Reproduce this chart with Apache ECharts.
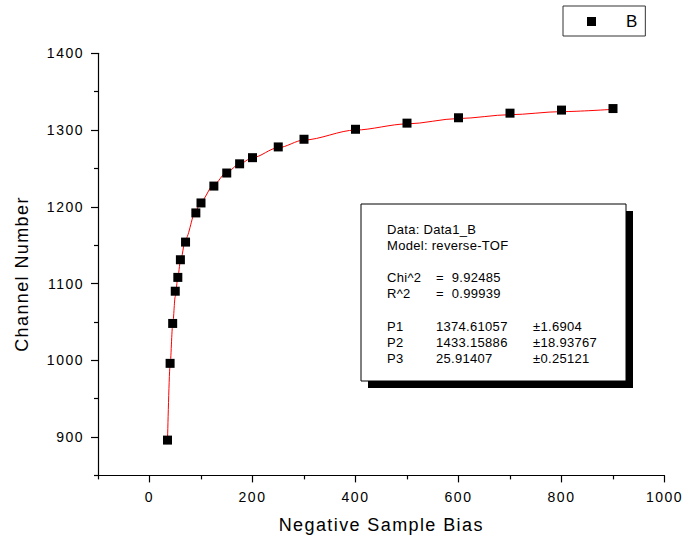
<!DOCTYPE html>
<html>
<head>
<meta charset="utf-8">
<script src="https://cdn.jsdelivr.net/npm/echarts@6/dist/echarts.min.js"></script>
<style>
html,body{margin:0;padding:0;background:#fff;}
#chart{width:685px;height:542px;}
/* the reference typesetting has loose tracking */
#chart text[style*="14px"]{letter-spacing:1.5px;}
#chart text[style*="18px"]{letter-spacing:1.4px;}
#chart text[style*="13px"]{letter-spacing:0.3px;}
#chart text[style*="17px"]{letter-spacing:0;}
</style>
</head>
<body>
<div id="chart"></div>
<script>
// Data
var biasValues = [35, 40, 45, 50, 55, 60, 70, 90, 100, 125, 150, 175, 200, 250, 300, 400, 500, 600, 700, 800, 900];
var channelValues = [896, 996, 1048, 1090, 1108, 1131, 1154, 1192, 1205, 1227, 1244, 1256, 1264, 1278, 1288, 1301, 1309, 1316, 1322, 1326, 1328];
// Fitted (reverse-TOF) curve at the same biases
var fitValues = [896, 994, 1046, 1083, 1108, 1129, 1158, 1195, 1207, 1229, 1245, 1256, 1264, 1277, 1287, 1300, 1308, 1315, 1320, 1324, 1327];

var xMajorTicks = [0, 200, 400, 600, 800, 1000];
var xMinorTicks = [-100, 100, 300, 500, 700, 900];
var yMajorTicks = [900, 1000, 1100, 1200, 1300, 1400];
var yMinorTicks = [850, 950, 1050, 1150, 1250, 1350];

var seriesName = 'B';
var xTitle = 'Negative Sample Bias';
var yTitle = 'Channel Number';
var fitLines = [
  ['Data: Data1_B', '', ''],
  ['Model: reverse-TOF', '', ''],
  ['', '', ''],
  ['Chi^2', '=  9.92485', ''],
  ['R^2', '=  0.99939', ''],
  ['', '', ''],
  ['P1', '1374.61057', '\u00b11.6904'],
  ['P2', '1433.15886', '\u00b118.93767'],
  ['P3', '25.91407', '\u00b10.25121']
];

var FONT = '"Liberation Sans", Arial, Helvetica, sans-serif';
var scatterData = biasValues.map(function (x, i) { return [x, channelValues[i]]; });
var fitData = biasValues.map(function (x, i) { return [x, fitValues[i]]; });
var plain = function (v) { return String(v); };

var chart = echarts.init(document.getElementById('chart'), null, {renderer: 'svg'});

var boxX = 361, boxY = 204, boxW = 265, boxH = 177;
var graphics = [
  {type: 'rect', shape: {x: boxX + 7, y: boxY + 7, width: boxW, height: boxH}, style: {fill: '#000'}, z: 10},
  {type: 'rect', shape: {x: boxX, y: boxY, width: boxW, height: boxH}, style: {fill: '#fff', stroke: '#000', lineWidth: 1}, z: 11},
  {type: 'text', x: 22, y: 274, rotation: Math.PI / 2, style: {text: yTitle, fontSize: 18, fontFamily: FONT, fill: '#000', align: 'center', verticalAlign: 'middle'}, z: 12}
];
var colX = [387, 436, 533];
fitLines.forEach(function (row, i) {
  row.forEach(function (t, j) {
    if (!t) return;
    graphics.push({type: 'text', x: colX[j], y: 229 + i * 16.2, style: {text: t, fontSize: 13, fontFamily: FONT, fill: '#000', align: 'left', verticalAlign: 'middle'}, z: 12});
  });
});

var option = {
  backgroundColor: '#fff',
  animation: false,
  textStyle: {fontFamily: FONT},
  grid: {left: 98, right: 20.5, top: 53.3, bottom: 66.6, containLabel: false},
  legend: {
    data: [{name: seriesName, icon: 'rect'}],
    left: 563, top: 6,
    orient: 'horizontal',
    itemWidth: 9, itemHeight: 9,
    padding: [7, 8, 6, 24],
    borderColor: '#333', borderWidth: 1,
    backgroundColor: '#fff',
    textStyle: {fontSize: 17, color: '#000', fontFamily: FONT, padding: [0, 0, 0, 25]}
  },
  xAxis: [{
    type: 'value', min: -100, max: 1000,
    position: 'bottom',
    name: xTitle, nameLocation: 'middle', nameGap: 41,
    nameTextStyle: {fontSize: 18, color: '#000', fontFamily: FONT},
    axisLine: {show: true, onZero: false, lineStyle: {color: '#000', width: 1.2}},
    axisTick: {show: true, inside: false, length: 7, customValues: xMajorTicks, lineStyle: {color: '#000', width: 1.2}},
    axisLabel: {show: true, customValues: xMajorTicks, formatter: plain, margin: 15, fontSize: 14, color: '#000', fontFamily: FONT},
    splitLine: {show: false}
  }, {
    type: 'value', min: -100, max: 1000,
    position: 'bottom',
    axisLine: {show: false, onZero: false},
    axisTick: {show: true, inside: false, length: 4, customValues: xMinorTicks, lineStyle: {color: '#000', width: 1.2}},
    axisLabel: {show: false},
    splitLine: {show: false}
  }],
  yAxis: [{
    type: 'value', min: 850, max: 1400,
    position: 'left',
    axisLine: {show: true, onZero: false, lineStyle: {color: '#000', width: 1.2}},
    axisTick: {show: true, inside: false, length: 7, customValues: yMajorTicks, lineStyle: {color: '#000', width: 1.2}},
    axisLabel: {show: true, customValues: yMajorTicks, formatter: plain, margin: 14, fontSize: 14, color: '#000', fontFamily: FONT},
    splitLine: {show: false}
  }, {
    type: 'value', min: 850, max: 1400,
    position: 'left',
    axisLine: {show: false, onZero: false},
    axisTick: {show: true, inside: false, length: 4, customValues: yMinorTicks, lineStyle: {color: '#000', width: 1.2}},
    axisLabel: {show: false},
    splitLine: {show: false}
  }],
  series: [{
    name: 'fit', type: 'line', data: fitData,
    xAxisIndex: 0, yAxisIndex: 0,
    smooth: 0.3, smoothMonotone: 'x',
    showSymbol: false, symbol: 'none',
    lineStyle: {color: '#ff0000', width: 1},
    z: 2
  }, {
    name: seriesName, type: 'scatter', data: scatterData,
    xAxisIndex: 0, yAxisIndex: 0,
    symbol: 'rect', symbolSize: 9,
    itemStyle: {color: '#000', opacity: 1},
    z: 3
  }],
  graphic: graphics
};
chart.setOption(option);
</script>
</body>
</html>
